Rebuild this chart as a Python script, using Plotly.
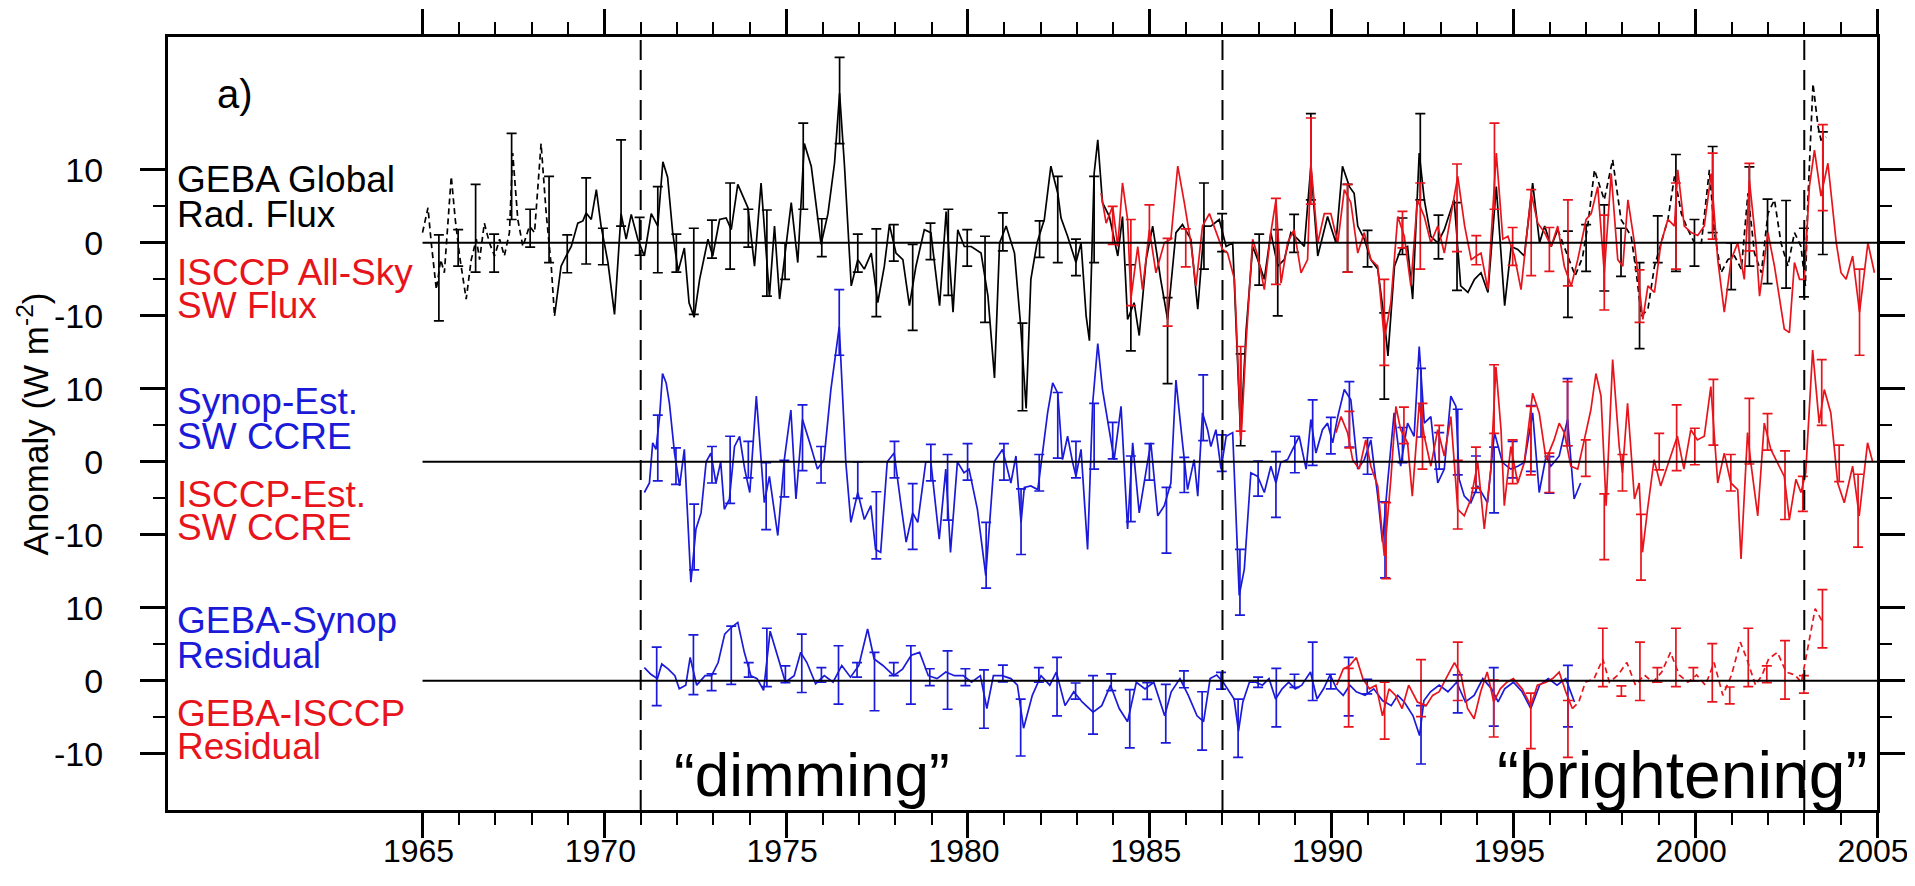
import plotly.graph_objects as go

# ---------------- data (year, anomaly W m-2) ----------------
# Top panel: GEBA global radiation flux (black) & ISCCP all-sky SW flux (red)
geba_dash_early = [(1965.0, 1.4), (1965.15, 4.8), (1965.24, 0), (1965.38, -6.4), (1965.5, -2.3), (1965.6, -4.1),
                   (1965.79, 9.1), (1965.9, 3.2), (1966.02, -1.8), (1966.2, -7.7), (1966.34, -2.3), (1966.48, 0.5),
                   (1966.57, -2.3), (1966.7, 2.7), (1966.84, 0), (1966.98, -1.8), (1967.12, 0.5), (1967.25, -1.8),
                   (1967.39, 1.4), (1967.48, 12.3), (1967.62, 3.2), (1967.76, -0.5), (1967.94, 2.3), (1968.08, 1.4),
                   (1968.26, 13.6), (1968.4, 4.1), (1968.54, -3.2), (1968.63, -10)]
geba_solid = [(1968.63, -10), (1968.81, -3.2), (1968.95, -1.8), (1969.09, -0.5), (1969.27, 2.7), (1969.41, 3.0),
              (1969.5, 4.1), (1969.64, 3.2), (1969.78, 7.3), (1969.91, 2.3), (1970.1, -2.7), (1970.28, -9.8),
              (1970.46, 4.0), (1970.6, 0.5), (1970.74, 3.9), (1970.92, 0.5), (1971.1, -1.8), (1971.29, 4.0),
              (1971.47, 2.3), (1971.61, 11.1), (1971.74, 9.0), (1971.88, 1.4), (1972.03, -3.9), (1972.2, -0.7),
              (1972.33, -8.2), (1972.47, -10.2), (1972.62, -5.0), (1972.85, 0.5), (1972.98, -1.8), (1973.17, 3.2),
              (1973.35, 3.4), (1973.49, 1.8), (1973.67, 8.0), (1973.95, 4.8), (1974.13, -3.2), (1974.31, 8.2),
              (1974.54, -7.3), (1974.68, 2.3), (1974.82, -7.7), (1975.0, 0), (1975.14, 5.5), (1975.32, -2.7),
              (1975.5, 13.6), (1975.69, 10.5), (1975.96, -0.2), (1976.15, 4.0), (1976.33, 10.9), (1976.47, 20.5),
              (1976.6, 10.9), (1976.79, -5.9), (1976.97, -2.3), (1977.15, -3.6), (1977.34, -1.4), (1977.52, -8.2),
              (1977.7, -3.2), (1977.84, 2.5), (1978.02, -1.4), (1978.21, -2.3), (1978.39, -8.6), (1978.57, -3.2),
              (1978.8, 1.8), (1978.98, 1.4), (1979.22, -8.6), (1979.4, 4.3), (1979.59, -9.5), (1979.72, 1.8),
              (1979.9, -0.5), (1980.09, -0.5), (1980.36, -1.4), (1980.55, -7.3), (1980.73, -18.5), (1980.87, 0),
              (1981.05, 2.3), (1981.28, -1.4), (1981.45, -11.4), (1981.6, -22.7), (1981.73, -5.0), (1981.9, 0),
              (1982.1, 3.2), (1982.28, 10.5), (1982.47, 6.8), (1982.56, 3.4), (1982.74, 0.9), (1982.97, -2.7),
              (1983.11, 0), (1983.25, -10), (1983.34, -13.4), (1983.47, 9.5), (1983.57, 14.1), (1983.7, 5.5),
              (1983.89, 3.6), (1984.12, -1.8), (1984.25, 3.6), (1984.39, -10.5), (1984.57, -8.2), (1984.71, -12.7),
              (1984.9, -2.3), (1985.08, 2.3), (1985.3, -5.0), (1985.49, -10.5), (1985.72, 1.4), (1985.9, 2.5),
              (1986.13, 0.5), (1986.32, -9.1), (1986.5, 2.3), (1986.68, 2.3), (1986.91, 3.2), (1987.1, -0.5),
              (1987.28, 0), (1987.5, -26.5), (1987.65, -12), (1987.83, -0.5), (1987.97, -2.3), (1988.15, -5),
              (1988.33, 1.4), (1988.52, -3.2), (1988.7, -2.3), (1988.88, 1.4), (1989.07, 0.5), (1989.25, -0.5),
              (1989.43, 10.5), (1989.62, -1.8), (1989.89, 3.6), (1990.12, 0), (1990.3, 10.5), (1990.49, 7.7),
              (1990.62, 6.8), (1990.72, 2.3), (1990.9, 0.5), (1991.08, -2.3), (1991.27, -3.6), (1991.45, -10.5),
              (1991.55, -15.5), (1991.73, -3.2), (1991.9, -0.9), (1992.09, -0.5), (1992.23, -7.7), (1992.41, 12.3),
              (1992.55, 5.9), (1992.73, 0.9), (1992.92, 0), (1993.1, 1.8), (1993.37, 5.9), (1993.55, -5.9),
              (1993.75, -6.8), (1993.93, -5.0), (1994.11, -4.1), (1994.3, -6.8), (1994.53, 7.7), (1994.76, -8.6),
              (1994.94, -0.5), (1995.12, -0.9), (1995.3, -1.8), (1995.53, 8.2), (1995.72, 0), (1995.86, 2.3),
              (1996.04, -0.5), (1996.22, 1.8)]
geba_dash_late = [(1996.22, 1.8), (1996.5, -1.8), (1996.7, -4.5), (1996.9, -2.0), (1997.05, 2.5), (1997.23, 10.0),
                  (1997.5, 5.9), (1997.73, 11.4), (1997.96, 3.2), (1998.24, 0.9), (1998.38, -4.1), (1998.52, -10.0),
                  (1998.7, -9.1), (1998.88, -3.2), (1999.06, 0), (1999.25, 3.2), (1999.43, 9.1), (1999.62, 4.0),
                  (1999.8, 1.8), (1999.98, 0), (2000.17, 0), (2000.39, 10.0), (2000.53, 1.4), (2000.71, -4.1),
                  (2000.9, -2.3), (2001.08, -1.8), (2001.27, -3.6), (2001.45, 6.8), (2001.63, -1.4), (2001.82, -4.1),
                  (2002.0, 4.0), (2002.18, 5.9), (2002.36, 0), (2002.55, -3.2), (2002.73, 1.4), (2002.91, -0.5),
                  (2003.03, -5.9), (2003.1, 5.9), (2003.24, 21.8), (2003.38, 15.9), (2003.46, 14.1), (2003.6, 14.5)]
geba_err = [(1965.45, -4.8, 5.9), (1965.98, -0.7, 2.5), (1966.46, 2.0, 6.0), (1966.97, -1.4, 2.6), (1967.45, 9.1, 5.9),
            (1967.96, 2.0, 2.6), (1968.48, 3.2, 5.9), (1968.98, -1.5, 2.6), (1969.5, 3.0, 5.9), (1969.96, -0.5, 2.5),
            (1970.46, 8.2, 5.9), (1970.97, 0.9, 2.6), (1971.47, 1.8, 5.9), (1971.98, -1.4, 2.6), (1972.46, -3.9, 5.9),
            (1972.96, 0.5, 2.6), (1973.46, 2.3, 5.9), (1973.96, 2.0, 2.6), (1974.47, -1.4, 5.9), (1974.97, -2.5, 2.5),
            (1975.47, 10.5, 5.9), (1975.98, 0.7, 2.6), (1976.47, 19.5, 5.9), (1976.97, -1.4, 2.6), (1977.48, -4.1, 6.0),
            (1977.96, 0, 2.5), (1978.48, -6.1, 5.9), (1978.97, 0.2, 2.5), (1979.46, -1.3, 5.9), (1979.98, -0.7, 2.5),
            (1980.47, -5.0, 5.9), (1980.96, 1.5, 2.6), (1981.5, -17, 6.0), (1981.97, 0.5, 2.5), (1982.47, 3.2, 5.9),
            (1982.97, -2.0, 2.5), (1983.47, 3.2, 5.9), (1984.48, -8.9, 5.9), (1985.49, -13.4, 5.9), (1986.49, 2.3, 5.9),
            (1986.99, 1.4, 2.6), (1987.5, -21.5, 6.3), (1988.01, -2.3, 3.5), (1988.52, -4.1, 5.9), (1988.97, 1.3, 2.6),
            (1989.43, 11.8, 5.9), (1990.44, 2.0, 6.0), (1990.99, -0.8, 2.5), (1991.45, -15.5, 5.9), (1991.95, 0.9, 2.5),
            (1992.44, 11.8, 5.9), (1992.94, 0.8, 3.0), (1993.45, -0.5, 6.0), (1996.5, -4.3, 5.9), (1997.0, -0.7, 3.2),
            (1997.5, -0.7, 5.9), (1997.96, -1.3, 3.3), (1998.47, -8.6, 5.9), (1998.97, 0.5, 3.2), (1999.47, 4.1, 8.0),
            (1999.98, 0, 3.2), (2000.48, 7.3, 5.9), (2000.99, -3.2, 3.2), (2001.49, 3.6, 6.8), (2001.99, 0.2, 5.8),
            (2002.5, -0.2, 6.0), (2002.99, -2.7, 4.7), (2003.51, 6.8, 8.4)]

isccp_allsky = [(1983.66, 6.8), (1983.8, 2.7), (1983.98, 5.0), (1984.12, -0.5), (1984.25, 8.2), (1984.39, 3.2),
                (1984.48, -7.7), (1984.67, -0.5), (1984.8, -6.4), (1984.99, 1.8), (1985.17, -4.1), (1985.4, 0),
                (1985.58, 0.5), (1985.77, 10.5), (1985.95, 5.5), (1986.13, 0), (1986.27, -5.9), (1986.45, 2.3),
                (1986.64, 4.0), (1986.82, 1.4), (1987.0, -0.9), (1987.14, -1.4), (1987.33, -5.0), (1987.51, -27),
                (1987.65, -13.6), (1987.83, 0.5), (1987.97, -1.8), (1988.15, -6.4), (1988.33, 1.4), (1988.47, 5.9),
                (1988.61, -5.5), (1988.79, 0), (1988.97, 1.8), (1989.16, -4.1), (1989.34, -2.3), (1989.43, 10.9),
                (1989.62, 0), (1989.8, 4.0), (1989.98, 4.0), (1990.17, 0), (1990.35, 7.3), (1990.53, 5.5),
                (1990.72, -1.4), (1990.9, 1.4), (1991.08, -2.3), (1991.27, -3.2), (1991.45, -13.2), (1991.63, -8.2),
                (1991.82, 3.6), (1992.0, 0.9), (1992.18, -5.9), (1992.36, 5.9), (1992.55, 3.6), (1992.73, 0),
                (1992.92, 2.3), (1993.1, -1.4), (1993.28, 4.0), (1993.47, 9.1), (1993.66, 2.3), (1993.84, -2.3),
                (1993.98, -1.8), (1994.11, -1.4), (1994.3, -6.4), (1994.53, 12.3), (1994.71, 0.5), (1994.85, 0.9),
                (1995.03, -1.8), (1995.21, -6.4), (1995.49, 6.8), (1995.67, 2.7), (1995.86, 1.4), (1996.04, -0.5),
                (1996.22, 2.3), (1996.4, -3.2), (1996.59, -5.9), (1996.77, -2.3), (1997.0, 3.2), (1997.14, 4.0),
                (1997.32, 7.7), (1997.5, -4.1), (1997.69, 9.5), (1997.87, -2.3), (1998.01, -3.2), (1998.15, 5.9),
                (1998.33, 0), (1998.47, -6.8), (1998.56, -10.5), (1998.7, -5.9), (1998.88, -6.8), (1999.06, 0),
                (1999.25, 3.2), (1999.43, 2.3), (1999.52, 10.0), (1999.7, 2.3), (1999.89, 1.4), (2000.07, 1.0),
                (2000.25, 2.3), (2000.44, 9.5), (2000.62, -2.3), (2000.8, -9.5), (2000.99, -2.3), (2001.17, 0),
                (2001.35, -5.0), (2001.49, 8.6), (2001.67, 0), (2001.77, -7.3), (2002.0, 1.4), (2002.18, -3.2),
                (2002.45, -11.8), (2002.59, -12.3), (2002.73, -2.7), (2002.87, -5.0), (2003.0, -5.0), (2003.14, 7.7),
                (2003.28, 12.7), (2003.46, 6.4), (2003.65, 10.9), (2003.88, 0), (2004.01, -4.1), (2004.15, -5.0),
                (2004.33, -1.8), (2004.52, -9.5), (2004.75, 0), (2004.93, -4.1)]
isccp_allsky_err = [(1983.98, 2.4, 2.6), (1984.48, -2.7, 5.9), (1984.99, 2.6, 2.6), (1985.49, -5.4, 6.0),
                    (1985.99, -0.7, 2.6), (1987.5, -20, 5.8), (1988.47, 0.2, 5.9), (1989.43, 11.2, 5.9),
                    (1990.44, 2.0, 6.0), (1991.45, -10.9, 5.9), (1991.95, 1.8, 2.5), (1992.44, 2.3, 5.9),
                    (1993.45, 4.8, 6.0), (1993.98, -1.0, 2.0), (1994.48, 10.5, 5.9), (1994.98, -0.5, 2.6),
                    (1995.49, 1.4, 5.9), (1995.99, -0.9, 3.0), (1996.5, 0, 5.9), (1997.5, -2.7, 6.5),
                    (1998.47, -7.3, 3.6), (1999.47, 2.3, 5.9), (2000.48, 6.4, 5.9), (2001.49, 4.9, 6.0),
                    (2003.51, 10.3, 5.9), (2004.52, -9.5, 5.9)]

# Middle panel: Synop-estimated (blue) and ISCCP-estimated (red) SW CCRE
synop_ccre = [(1971.1, -4.2), (1971.24, -2.9), (1971.33, 2.6), (1971.42, 1.7), (1971.52, 6.2), (1971.6, 12.1),
              (1971.7, 10.8), (1971.79, 8.0), (1971.93, 1.2), (1972.07, -3.3), (1972.2, 1.7), (1972.38, -16.5),
              (1972.52, -9.2), (1972.66, -7.0), (1972.8, 0), (1972.93, 1.2), (1973.07, -2.9), (1973.2, 0),
              (1973.3, -6.5), (1973.44, -5.1), (1973.58, 2.1), (1973.72, 3.5), (1973.86, -1.0), (1974.0, -4.2),
              (1974.18, 9.0), (1974.32, 0.3), (1974.4, -5.6), (1974.54, -2.0), (1974.77, -10.1), (1974.95, 0.3),
              (1975.13, 7.1), (1975.27, -5.1), (1975.45, 5.8), (1975.68, 2.1), (1975.86, -1.0), (1976.04, 0.3),
              (1976.23, 9.9), (1976.46, 18.5), (1976.64, 0), (1976.78, -8.3), (1976.97, -4.2), (1977.15, -7.9),
              (1977.33, -6.0), (1977.46, -12.0), (1977.6, -12.4), (1977.78, 0), (1977.97, 1.2), (1978.15, -5.6),
              (1978.3, -11.0), (1978.48, -7.0), (1978.62, -8.3), (1978.84, 0), (1978.98, 0), (1979.21, -10.6),
              (1979.39, -1.0), (1979.52, -12.4), (1979.71, 0), (1979.89, -1.5), (1980.03, -1.0), (1980.26, -6.5),
              (1980.49, -15.6), (1980.72, 0), (1980.95, 1.7), (1981.18, -2.9), (1981.32, 0.8), (1981.46, -8.3),
              (1981.55, -3.5), (1981.73, -3.3), (1981.92, -3.8), (1982.05, 1.2), (1982.19, 6.7), (1982.33, 10.8),
              (1982.47, 9.4), (1982.6, 0.3), (1982.74, 3.5), (1982.88, -0.1), (1982.97, -2.0), (1983.11, 1.7),
              (1983.29, -12.0), (1983.43, 8.0), (1983.57, 16.2), (1983.7, 9.9), (1983.89, 4.4), (1984.02, 0.3),
              (1984.21, 7.6), (1984.39, -9.2), (1984.53, 2.6), (1984.71, -7.0), (1984.94, 0), (1985.03, 2.6),
              (1985.22, -7.4), (1985.4, -6.0), (1985.58, -2.9), (1985.72, 11.2), (1985.9, 2.6), (1986.04, -3.8),
              (1986.22, 0.3), (1986.32, -4.7), (1986.45, 6.7), (1986.59, 4.4), (1986.68, 2.1), (1986.82, 4.4),
              (1986.96, -1.0), (1987.1, 3.5), (1987.28, 4.0), (1987.46, -18.3), (1987.6, -14.7), (1987.78, -1.5),
              (1987.97, -2.0), (1988.15, -4.2), (1988.33, -0.6), (1988.47, -2.9), (1988.6, -0.1), (1988.79, 0.3),
              (1988.97, 2.1), (1989.11, 3.5), (1989.3, -1.0), (1989.43, 5.8), (1989.57, 1.2), (1989.75, 4.4),
              (1989.89, 5.3), (1990.03, 2.6), (1990.17, 6.2), (1990.35, 9.9), (1990.53, 8.5), (1990.72, -1.0),
              (1990.9, 0.3), (1991.08, 3.0), (1991.27, -4.7), (1991.4, -11.0), (1991.54, -2.9), (1991.72, 6.7),
              (1991.9, -0.6), (1992.09, 5.3), (1992.27, 3.5), (1992.41, 15.8), (1992.55, 5.3), (1992.73, 6.2),
              (1992.92, -2.9), (1993.1, -1.0), (1993.28, 9.0), (1993.42, 7.6), (1993.51, -2.4), (1993.65, -4.7),
              (1993.83, -5.6), (1994.02, -3.3), (1994.29, -5.6), (1994.48, 4.0), (1994.7, -0.1), (1994.93, -1.0),
              (1995.12, -0.6), (1995.3, -0.1), (1995.53, 6.7), (1995.71, -4.2), (1995.9, 0.8), (1996.03, -0.6),
              (1996.26, 0.8), (1996.49, 5.8), (1996.67, -5.1), (1996.85, -2.9)]
synop_ccre_err = [(1971.47, 1.9, 4.5), (1971.97, -0.6, 2.5), (1972.47, -10.3, 4.5), (1972.96, -0.4, 2.5),
                  (1973.46, -1.1, 4.6), (1973.96, 0.3, 2.5), (1974.45, -4.7, 4.6), (1974.95, -2.3, 2.5),
                  (1975.45, 3.3, 4.5), (1975.96, -0.4, 2.5), (1976.46, 19.1, 4.5), (1976.97, -2.5, 2.5),
                  (1977.48, -8.7, 4.6), (1977.98, 0.3, 2.5), (1978.48, -7.5, 4.5), (1978.98, -0.1, 2.5),
                  (1979.44, -3.5, 4.5), (1979.99, 0, 2.5), (1980.5, -12.8, 4.5), (1980.99, 0, 2.5),
                  (1981.46, -8.2, 4.5), (1981.96, -1.5, 2.5), (1982.47, 5.0, 4.5), (1982.97, 0.3, 2.5),
                  (1983.47, 3.5, 4.5), (1983.98, 2.9, 2.5), (1984.48, -3.7, 4.5), (1984.99, 0, 2.5),
                  (1985.46, -8.0, 4.5), (1985.95, -1.8, 2.4), (1986.47, 7.4, 4.5), (1986.98, 1.2, 2.5),
                  (1987.48, -16.5, 4.5), (1987.98, -2.3, 2.4), (1988.47, -3.1, 4.5), (1988.99, 1.0, 2.5),
                  (1989.48, 4.0, 4.5), (1989.98, 3.6, 2.5), (1990.49, 6.5, 4.5), (1990.99, 0.8, 2.5),
                  (1991.47, -10.7, 5.2), (1991.95, 2.3, 2.4), (1992.46, 8.1, 4.7), (1992.96, 1.5, 2.5),
                  (1993.47, 2.7, 4.5), (1993.97, -1.7, 2.5), (1994.47, -2.5, 4.5), (1994.98, 0.3, 2.5),
                  (1995.48, 3.2, 4.5), (1995.99, -1.8, 2.5), (1996.49, 6.8, 4.6)]

isccp_ccre = [(1990.12, 4.0), (1990.26, 6.2), (1990.44, 4.0), (1990.58, 0.3), (1990.76, -1.0), (1990.94, 3.0),
              (1991.08, -0.6), (1991.27, -3.3), (1991.45, -12.9), (1991.63, -2.4), (1991.77, 7.6), (1991.9, 4.4),
              (1992.09, 2.6), (1992.22, -4.7), (1992.41, 8.0), (1992.55, 3.5), (1992.73, -0.6), (1992.92, 4.4),
              (1993.1, 0.8), (1993.28, 6.2), (1993.47, -6.5), (1993.65, -7.4), (1993.83, -5.1), (1994.02, -0.1),
              (1994.2, -9.2), (1994.38, -1.0), (1994.52, 13.0), (1994.66, 4.4), (1994.75, -6.0), (1994.93, 2.1),
              (1995.12, -2.9), (1995.3, -0.1), (1995.53, 9.4), (1995.71, 6.7), (1995.9, 0.3), (1996.12, 3.0),
              (1996.26, 5.3), (1996.4, 4.0), (1996.58, -0.6), (1996.77, -1.0), (1996.95, 3.0), (1997.13, 7.1),
              (1997.27, 12.1), (1997.41, 9.0), (1997.55, -6.0), (1997.73, 14.0), (1997.91, 2.1), (1998.0, -1.5),
              (1998.14, 8.0), (1998.33, -5.1), (1998.46, -2.9), (1998.55, -12.4), (1998.69, -6.5), (1998.87, 0.3),
              (1999.05, -3.3), (1999.24, -0.6), (1999.51, 3.5), (1999.69, -1.0), (1999.88, 4.4), (2000.06, 3.0),
              (2000.25, 3.5), (2000.43, 10.3), (2000.62, -2.9), (2000.8, 1.2), (2000.98, -2.9), (2001.17, -3.8),
              (2001.26, -13.3), (2001.44, 4.0), (2001.53, -0.1), (2001.72, -7.4), (2001.9, 5.3), (2002.08, 1.7),
              (2002.27, -0.1), (2002.45, -2.0), (2002.59, -7.9), (2002.77, -2.4), (2002.91, -4.2), (2003.04, -1.5),
              (2003.23, 15.3), (2003.41, 5.3), (2003.55, 9.9), (2003.73, 6.7), (2003.92, -2.9), (2004.1, -5.6),
              (2004.33, -0.6), (2004.51, -7.4), (2004.74, 2.6), (2004.88, 0)]
isccp_ccre_err = [(1990.49, 4.4, 2.5), (1991.5, -10.8, 5.2), (1991.99, 5.0, 2.5), (1992.5, 3.5, 4.5),
                  (1992.96, 2.5, 2.5), (1993.47, -4.5, 4.7), (1993.97, -0.8, 2.8), (1994.47, 8.6, 4.7),
                  (1994.98, 0, 3.0), (1995.48, 2.9, 4.7), (1995.99, -1.5, 2.7), (1996.49, 6.6, 4.4),
                  (1996.99, 0.5, 2.5), (1997.5, -8.9, 4.5), (1998.0, -1.5, 2.5), (1998.51, -11.7, 4.5),
                  (1999.01, 1.4, 2.5), (1999.49, 3.3, 4.5), (1999.99, 2.1, 2.5), (2000.5, 6.8, 4.5),
                  (2000.98, -1.5, 2.5), (2001.49, 4.2, 4.5), (2001.99, 4.1, 2.5), (2002.47, -3.2, 4.7),
                  (2002.96, -4.4, 2.4), (2003.48, 9.5, 4.5), (2003.96, -0.2, 2.5), (2004.48, -6.7, 5.0)]

# Bottom panel: residuals GEBA-Synop (blue) and GEBA-ISCCP (red)
resid_synop = [(1971.1, 1.8), (1971.28, 0.9), (1971.46, 0.3), (1971.58, 2.3), (1971.76, 1.6), (1971.94, 0.7),
               (1972.06, -1.1), (1972.24, -0.6), (1972.36, 3.2), (1972.54, -0.6), (1972.77, 0.7), (1972.95, 0.7),
               (1973.13, 2.5), (1973.31, 6.4), (1973.49, 7.3), (1973.67, 8.0), (1973.85, 3.9), (1974.03, 0.7),
               (1974.2, 0.3), (1974.38, -1.3), (1974.56, 6.8), (1974.74, 3.9), (1974.98, -0.2), (1975.22, 0.7),
               (1975.4, 3.9), (1975.57, 2.5), (1975.81, -0.4), (1976.05, 0.7), (1976.29, -0.2), (1976.53, 2.1),
               (1976.77, 0.5), (1977.0, 2.1), (1977.24, 7.1), (1977.42, 3.0), (1977.66, 2.1), (1977.96, 0.7),
               (1978.2, 1.6), (1978.44, 3.5), (1978.67, 3.9), (1978.91, 0.7), (1979.15, 0.3), (1979.39, 1.2),
               (1979.63, 0.7), (1979.87, 0.7), (1980.1, -0.2), (1980.34, 0.7), (1980.52, -3.8), (1980.7, 0.7),
               (1980.94, 0.7), (1981.18, 0.3), (1981.36, -0.6), (1981.53, -6.5), (1981.77, -2.0), (1982.01, 0.7),
               (1982.25, -0.6), (1982.43, 1.2), (1982.67, -3.4), (1982.91, -1.5), (1983.14, -2.9), (1983.44, -4.3),
               (1983.68, -3.4), (1983.92, -0.6), (1984.16, -3.8), (1984.39, -5.6), (1984.63, -0.2), (1984.87, -1.1),
               (1985.11, -0.2), (1985.41, -4.8), (1985.59, -1.5), (1985.83, 0.3), (1986.06, -2.0), (1986.3, -4.8),
               (1986.48, -5.6), (1986.66, 0.3), (1986.84, 0.8), (1987.02, -0.2), (1987.32, -2.5), (1987.44, -6.9),
               (1987.56, -2.9), (1987.74, -0.2), (1987.92, -0.2), (1988.1, -0.6), (1988.28, 0.3), (1988.46, -2.5),
               (1988.64, -1.1), (1988.82, -0.2), (1989.0, -1.1), (1989.18, -0.6), (1989.42, 1.2), (1989.6, -2.5),
               (1989.78, -1.1), (1989.96, 0.8), (1990.14, -1.1), (1990.32, -2.0), (1990.5, -0.6), (1990.68, -1.5),
               (1990.92, -2.0), (1991.16, -1.1), (1991.4, -2.7), (1991.64, -3.4), (1991.82, -2.0), (1992.0, -2.9),
               (1992.24, -4.8), (1992.42, -7.5), (1992.54, -2.7), (1992.72, -1.5), (1992.96, -0.6), (1993.2, -1.5),
               (1993.44, -0.2), (1993.68, -2.9), (1993.92, -2.0), (1994.16, 0.3), (1994.4, -1.1), (1994.58, -2.9),
               (1994.76, -1.1), (1995.0, -0.2), (1995.24, -1.5), (1995.48, -3.8), (1995.72, -0.6), (1995.96, 0.3),
               (1996.2, -0.6), (1996.44, 0.3), (1996.68, -2.9)]
resid_synop_err = [(1971.44, 0.6, 4.0), (1972.45, 2.2, 4.1), (1972.95, -0.2, 1.15), (1973.49, 3.5, 4.0),
                   (1973.97, 1.5, 1.0), (1974.47, 3.2, 4.0), (1974.98, 0.9, 1.15), (1975.43, 2.4, 4.0),
                   (1975.97, 0.8, 1.0), (1976.44, 0.8, 4.0), (1976.95, 1.5, 1.0), (1977.43, -0.1, 4.0),
                   (1977.96, 1.6, 0.9), (1978.43, 0.8, 4.0), (1978.95, 0.5, 1.15), (1979.44, 0.1, 4.0),
                   (1979.93, 0.5, 1.15), (1980.44, -2.5, 4.0), (1980.96, 1.0, 1.15), (1981.45, -6.4, 3.9),
                   (1981.95, 0.8, 1.0), (1982.45, -0.8, 4.0), (1982.96, -1.4, 1.1), (1983.44, -3.3, 4.0),
                   (1983.94, -0.2, 1.15), (1984.45, -5.2, 4.0), (1984.93, -1.4, 1.15), (1985.44, -4.5, 4.0),
                   (1985.94, 0.2, 1.15), (1986.44, -5.5, 4.0), (1986.96, 0, 1.15), (1987.43, -6.5, 4.0),
                   (1987.98, -0.2, 0.7), (1988.48, -2.3, 4.0), (1988.98, 0, 0.9), (1989.48, 1.3, 4.0),
                   (1989.98, -0.1, 1.0), (1990.47, -0.8, 4.0), (1990.98, -0.8, 1.0), (1992.46, -7.4, 4.0),
                   (1993.47, -1.8, 2.6), (1994.46, -2.2, 4.0), (1996.5, -2.1, 4.2)]

resid_isccp = [(1990.14, -0.6), (1990.32, 1.6), (1990.5, 2.1), (1990.68, 3.2), (1990.86, 0.3), (1991.04, -1.1),
               (1991.22, -0.6), (1991.4, -4.8), (1991.58, -1.1), (1991.76, -2.0), (1991.94, -3.8), (1992.12, -0.6),
               (1992.36, -2.9), (1992.6, -3.4), (1992.78, -2.0), (1992.96, -1.5), (1993.2, 0.8), (1993.38, 2.5),
               (1993.56, 0.8), (1993.74, -3.8), (1993.92, -5.2), (1994.1, -1.5), (1994.28, 1.2), (1994.46, -2.9),
               (1994.64, -1.1), (1994.82, -0.2), (1995.0, 0.3), (1995.24, -1.1), (1995.48, -3.4), (1995.66, -0.6),
               (1995.9, -0.2), (1996.08, 0.3), (1996.26, 1.2), (1996.44, -1.5), (1996.62, -3.8)]
resid_isccp_dash = [(1996.62, -3.8), (1996.8, -2.9), (1996.98, -0.2), (1997.22, 0.3), (1997.46, 3.0),
                    (1997.64, -0.2), (1997.88, 0.8), (1998.12, 2.5), (1998.36, -0.6), (1998.6, 0.8), (1998.84, -0.2),
                    (1999.08, 1.2), (1999.32, 3.9), (1999.56, 0.8), (1999.8, -0.2), (2000.04, 0.8), (2000.28, -0.6),
                    (2000.52, 2.5), (2000.76, -2.0), (2001.0, 0.8), (2001.24, 5.3), (2001.42, 3.0), (2001.66, -0.6),
                    (2001.84, 0.8), (2002.02, 3.0), (2002.26, 3.9), (2002.5, 1.2), (2002.74, 0.8), (2002.92, -0.2),
                    (2003.1, 4.4), (2003.3, 9.9), (2003.5, 8.1)]
resid_isccp_err = [(1990.47, -2.3, 4.0), (1991.46, -4.1, 3.9), (1992.46, -1.0, 3.9), (1993.47, 1.3, 4.0),
                   (1994.46, -3.8, 3.9), (1995.48, -5.5, 3.8), (1996.5, -6.6, 3.9), (1997.46, 3.2, 4.0),
                   (1997.97, -1.4, 0.7), (1998.48, 1.3, 4.0), (1998.96, 0.8, 1.0), (1999.47, 3.2, 4.0),
                   (1999.95, 0.9, 0.9), (2000.47, 1.1, 4.0), (2000.95, -2.0, 1.15), (2001.46, 3.2, 4.0),
                   (2001.97, 0.9, 1.15), (2002.47, 1.5, 4.0), (2002.99, -0.5, 1.2), (2003.5, 8.5, 4.0)]

period_bounds = [1971, 1987, 2003]
x_tick_years = list(range(1965, 2006, 5))
x_minor_years = [y for y in range(1966, 2005) if y % 5 != 0]

# ---------------- styling / layout ----------------
FONT = "Liberation Sans, Arial, Helvetica, sans-serif"
BLACK, RED, BLUE = "#000000", "#e8141c", "#1a1ad8"
OFF_TOP, OFF_MID, OFF_BOT = 30, 0, -30

fig = go.Figure()


def add_line(pairs, off, color, dash="solid", width=1.7):
    fig.add_trace(go.Scatter(x=[p[0] for p in pairs], y=[p[1] + off for p in pairs], mode="lines",
                             line=dict(color=color, width=width, dash=dash), showlegend=False,
                             hoverinfo="skip"))


def add_err(trip, off, color):
    fig.add_trace(go.Scatter(x=[t[0] for t in trip], y=[t[1] + off for t in trip], mode="markers",
                             marker=dict(size=1, color="rgba(0,0,0,0)"), showlegend=False, hoverinfo="skip",
                             error_y=dict(type="data", array=[t[2] for t in trip], visible=True,
                                          color=color, thickness=1.7, width=5)))


# top panel
add_line(geba_dash_early, OFF_TOP, BLACK, dash="6px,4px")
add_line(geba_solid, OFF_TOP, BLACK)
add_line(geba_dash_late, OFF_TOP, BLACK, dash="6px,4px")
add_err(geba_err, OFF_TOP, BLACK)
add_line(isccp_allsky, OFF_TOP, RED)
add_err(isccp_allsky_err, OFF_TOP, RED)
# middle panel
add_line(synop_ccre, OFF_MID, BLUE)
add_err(synop_ccre_err, OFF_MID, BLUE)
add_line(isccp_ccre, OFF_MID, RED)
add_err(isccp_ccre_err, OFF_MID, RED)
# bottom panel
add_line(resid_synop, OFF_BOT, BLUE)
add_err(resid_synop_err, OFF_BOT, BLUE)
add_line(resid_isccp, OFF_BOT, RED)
add_line(resid_isccp_dash, OFF_BOT, RED, dash="6px,4px")
add_err(resid_isccp_err, OFF_BOT, RED)

shapes = []
for off in (OFF_TOP, OFF_MID, OFF_BOT):
    shapes.append(dict(type="line", xref="x", yref="y", x0=1965, x1=2005, y0=off, y1=off,
                       line=dict(color=BLACK, width=2)))
for xb in period_bounds:
    shapes.append(dict(type="line", xref="x", yref="paper", x0=xb, x1=xb, y0=0, y1=1,
                       line=dict(color=BLACK, width=2, dash="20px,10px")))

ann = []
def label(text, y, color, size=37, x=1958.2):
    ann.append(dict(x=x, y=y, xref="x", yref="y", text=text, showarrow=False, xanchor="left",
                    yanchor="middle", font=dict(family=FONT, size=size, color=color)))

label("a)", 50.4, BLACK, size=40, x=1959.3)
for off, lines, shift in ((OFF_TOP, [("GEBA Global", BLACK), ("Rad. Flux", BLACK), ("ISCCP All-Sky", RED), ("SW Flux", RED)], 0.4),
                          (OFF_MID, [("Synop-Est.", BLUE), ("SW CCRE", BLUE), ("ISCCP-Est.", RED), ("SW CCRE", RED)], 0.0),
                          (OFF_BOT, [("GEBA-Synop", BLUE), ("Residual", BLUE), ("GEBA-ISCCP", RED), ("Residual", RED)], 0.0)):
    for (txt, col), dy in zip(lines, (8.3, 3.5, -4.5, -9.0)):
        label(txt, off + dy + shift, col)

ann.append(dict(x=1975.7, y=-42.9, xref="x", yref="y", text="\u201cdimming\u201d", showarrow=False,
                xanchor="center", yanchor="middle", font=dict(family=FONT, size=62, color=BLACK)))
ann.append(dict(x=1999.65, y=-42.9, xref="x", yref="y", text="\u201cbrightening\u201d", showarrow=False,
                xanchor="center", yanchor="middle", font=dict(family=FONT, size=66, color=BLACK)))
ann.append(dict(x=-0.079, y=0.5, xref="paper", yref="paper", text="Anomaly (W m<sup>-2</sup>)",
                showarrow=False, textangle=-90, xanchor="center", yanchor="middle",
                font=dict(family=FONT, size=35, color=BLACK)))

fig.update_layout(
    width=1915, height=886, paper_bgcolor="white", plot_bgcolor="white",
    margin=dict(l=160, r=46, t=29, b=84),
    shapes=shapes, annotations=ann, showlegend=False,
    font=dict(family=FONT, size=34, color=BLACK),
)
fig.update_xaxes(range=[1958.0, 2005.0], tickvals=x_tick_years, ticktext=[str(v) for v in x_tick_years],
                 ticks="outside", ticklen=25, tickwidth=3, tickcolor=BLACK, automargin=False,
                 showline=True, linewidth=3, linecolor=BLACK, mirror="ticks",
                 showgrid=False, zeroline=False, ticklabelstandoff=-14, ticklabelshift=-4,
                 ticklabeloverflow="allow",
                 tickfont=dict(family=FONT, size=32, color=BLACK),
                 minor=dict(tickvals=x_minor_years, ticks="outside", ticklen=12, tickwidth=2,
                            tickcolor=BLACK, showgrid=False))
y_ticks = [40, 30, 20, 10, 0, -10, -20, -30, -40]
y_text = ["10", "0", "-10", "10", "0", "-10", "10", "0", "-10"]
fig.update_yaxes(range=[-47.7, 58.2], tickvals=y_ticks, ticktext=y_text,
                 ticks="outside", ticklen=25, tickwidth=3, tickcolor=BLACK, automargin=False,
                 showline=True, linewidth=3, linecolor=BLACK, mirror="ticks",
                 showgrid=False, zeroline=False, ticklabelstandoff=30,
                 tickfont=dict(family=FONT, size=34, color=BLACK),
                 minor=dict(tickvals=[35, 25, 5, -5, -25, -35], ticks="outside", ticklen=12, tickwidth=2,
                            tickcolor=BLACK, showgrid=False))

fig.write_html("out.html")
